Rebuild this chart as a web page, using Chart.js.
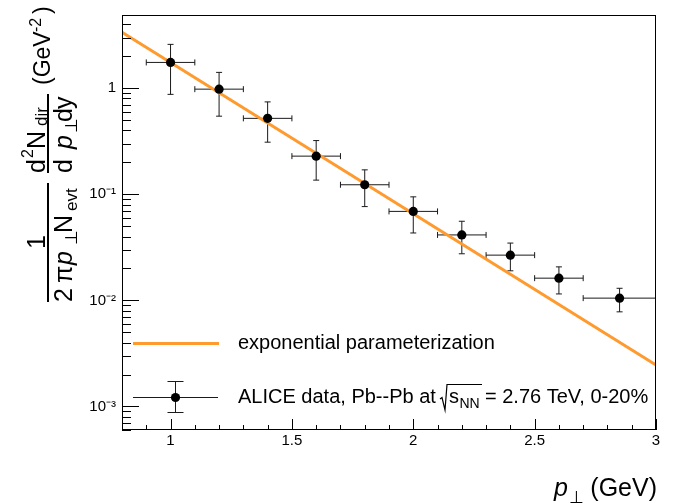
<!DOCTYPE html>
<html>
<head>
<meta charset="utf-8">
<script src="https://cdn.jsdelivr.net/npm/chart.js@4.4.1/dist/chart.umd.min.js"></script>
<style>
html,body{margin:0;padding:0;background:#fff;}
canvas{display:block;}
</style>
</head>
<body>
<canvas id="c" width="686" height="503"></canvas>
<script>
// ---- data ----
const ptCenters = [1.0, 1.2, 1.4, 1.6, 1.8, 2.0, 2.2, 2.4, 2.6, 2.85];
const ptLow     = [0.9, 1.1, 1.3, 1.5, 1.7, 1.9, 2.1, 2.3, 2.5, 2.7];
const ptHigh    = [1.1, 1.3, 1.5, 1.7, 1.9, 2.1, 2.3, 2.5, 2.7, 3.0];
const dirYield     = [1.75, 0.98, 0.52, 0.229, 0.123, 0.069, 0.0414, 0.0267, 0.0162, 0.0105];
const dirYieldHigh = [2.59, 1.41, 0.743, 0.321, 0.170, 0.0946, 0.0557, 0.0347, 0.0207, 0.0130];
const dirYieldLow  = [0.875, 0.545, 0.31, 0.136, 0.0766, 0.0432, 0.0275, 0.019, 0.0115, 0.0078];
const fitX = [0.8, 3.0];
const fitY = [3.37, 0.00246];
const xTicks = [1, 1.5, 2, 2.5, 3];
const xTickLabels = ['1', '1.5', '2', '2.5', '3'];
const yTicks = [0.001, 0.01, 0.1, 1];
const yTickLabels = ['10\u207B\u00B3', '10\u207B\u00B2', '10\u207B\u00B9', '1'];
const legendLabels = ['exponential parameterization', 'ALICE data, Pb--Pb at '];

const FONT = '"Liberation Sans", Arial, Helvetica, sans-serif';
const ORANGE = '#ff9a2e';

const fitData = fitX.map((x, i) => ({x: x, y: fitY[i]}));
const ptsData = ptCenters.map((x, i) => ({x: x, y: dirYield[i]}));

function vtext(ctx, str, size, bx, sy, opts) {
  opts = opts || {};
  ctx.save();
  ctx.translate(bx, sy);
  ctx.rotate(-Math.PI / 2);
  ctx.font = (opts.italic ? 'italic ' : '') + size + 'px ' + FONT;
  ctx.textAlign = opts.align || 'left';
  ctx.textBaseline = 'alphabetic';
  ctx.fillStyle = '#000';
  ctx.fillText(str, 0, 0);
  ctx.restore();
}
function htext(ctx, str, size, x, y, opts) {
  opts = opts || {};
  ctx.save();
  ctx.font = (opts.italic ? 'italic ' : '') + size + 'px ' + FONT;
  ctx.textAlign = opts.align || 'left';
  ctx.textBaseline = 'alphabetic';
  ctx.fillStyle = '#000';
  ctx.fillText(str, x, y);
  ctx.restore();
}
function line(ctx, x1, y1, x2, y2, color, w) {
  ctx.save();
  ctx.strokeStyle = color; ctx.lineWidth = w;
  ctx.beginPath(); ctx.moveTo(x1, y1); ctx.lineTo(x2, y2); ctx.stroke();
  ctx.restore();
}

const rootPlugin = {
  id: 'rootStyle',
  beforeDraw(chart) {
    const ctx = chart.ctx;
    ctx.save(); ctx.fillStyle = '#fff'; ctx.fillRect(0, 0, chart.width, chart.height); ctx.restore();
  },
  beforeDatasetsDraw(chart) {
    const ctx = chart.ctx;
    const xs = chart.scales.x, ys = chart.scales.y;
    ctx.save();
    ctx.beginPath();
    ctx.rect(chart.chartArea.left, chart.chartArea.top, chart.chartArea.right - chart.chartArea.left, chart.chartArea.bottom - chart.chartArea.top);
    ctx.clip();
    const c = '#1a1a1a';
    for (let i = 0; i < ptCenters.length; i++) {
      const px = xs.getPixelForValue(ptCenters[i]);
      const py = ys.getPixelForValue(dirYield[i]);
      const xl = xs.getPixelForValue(ptLow[i]);
      const xh = xs.getPixelForValue(ptHigh[i]);
      const yl = ys.getPixelForValue(dirYieldLow[i]);
      const yh = ys.getPixelForValue(dirYieldHigh[i]);
      line(ctx, xl, py, xh, py, c, 1);
      line(ctx, px, yl, px, yh, c, 1);
      line(ctx, xl, py - 3, xl, py + 3, c, 1);
      line(ctx, xh, py - 3, xh, py + 3, c, 1);
      line(ctx, px - 3, yl, px + 3, yl, c, 1);
      line(ctx, px - 3, yh, px + 3, yh, c, 1);
    }
    ctx.restore();
  },
  afterDraw(chart) {
    const ctx = chart.ctx;
    const a = chart.chartArea;
    const xs = chart.scales.x, ys = chart.scales.y;
    // frame
    ctx.save();
    ctx.strokeStyle = '#000'; ctx.lineWidth = 1;
    ctx.strokeRect(Math.round(a.left) + 0.5, Math.round(a.top) + 0.5, Math.round(a.right - a.left) - 1, Math.round(a.bottom - a.top) - 1);
    ctx.restore();
    // y ticks (inside)
    const L = Math.round(a.left);
    for (let e = -4; e <= 1; e++) {
      for (let k = 1; k <= 9; k++) {
        const v = k * Math.pow(10, e);
        if (v < ys.min || v > ys.max) continue;
        const py = Math.round(ys.getPixelForValue(v)) + 0.5;
        const len = (k === 1) ? 17 : 9;
        line(ctx, L, py, L + len, py, '#000', 1);
      }
    }
    // x ticks (inside)
    const B = Math.round(a.bottom);
    for (let i = 8; i <= 30; i++) {
      const v = i / 10;
      const px = Math.round(xs.getPixelForValue(v)) + 0.5;
      const major = (i % 5 === 0) && i >= 10;
      line(ctx, px, B, px, B - (major ? 11 : 5), '#000', 1);
    }
    // legend
    line(ctx, 133, 343.5, 219, 343.5, ORANGE, 3);
    htext(ctx, legendLabels[0], 20, 238, 349);
    line(ctx, 133, 397.5, 218, 397.5, '#1a1a1a', 1);
    line(ctx, 175.5, 381, 175.5, 413, '#1a1a1a', 1);
    line(ctx, 167.5, 381.5, 183.5, 381.5, '#1a1a1a', 1);
    line(ctx, 167.5, 412.5, 183.5, 412.5, '#1a1a1a', 1);
    ctx.save(); ctx.fillStyle = '#000'; ctx.beginPath(); ctx.arc(175.5, 397.5, 4.6, 0, Math.PI * 2); ctx.fill(); ctx.restore();
    htext(ctx, legendLabels[1], 20, 238, 403);
    // sqrt(s_NN)
    ctx.save();
    ctx.strokeStyle = '#000'; ctx.lineWidth = 1.2;
    ctx.beginPath();
    ctx.moveTo(440, 399); ctx.lineTo(442, 397.5); ctx.lineTo(445, 410); ctx.lineTo(447, 384.5); ctx.lineTo(482, 384.5);
    ctx.stroke();
    ctx.restore();
    htext(ctx, 's', 20, 449, 403);
    htext(ctx, 'NN', 14, 459.5, 408);
    htext(ctx, '= 2.76 TeV, 0-20%', 20, 485, 403);
    // x title
    htext(ctx, '(GeV)', 25, 657, 496, {align: 'right'});
    htext(ctx, 'p', 25, 554, 496, {italic: true});
    htext(ctx, '\u22A5', 17, 569, 503);
    // y title: first fraction 1/(2 pi p_perp N_evt)
    vtext(ctx, '1', 25, 45, 242, {align: 'center'});
    line(ctx, 48, 183, 48, 302, '#000', 2);
    vtext(ctx, '2', 25, 72, 302);
    vtext(ctx, '\u03C0', 25, 72, 283);
    vtext(ctx, 'p', 25, 72, 265, {italic: true});
    vtext(ctx, '\u22A5', 17, 77, 245);
    vtext(ctx, 'N', 25, 72, 233);
    vtext(ctx, 'evt', 17, 77, 211);
    // second fraction d2N_dir / (d p_perp dy)
    vtext(ctx, 'd', 25, 45, 173);
    vtext(ctx, '2', 16, 33, 158);
    vtext(ctx, 'N', 25, 45, 149);
    vtext(ctx, 'dir', 17, 47, 126);
    line(ctx, 48, 94, 48, 173, '#000', 2);
    vtext(ctx, 'd', 25, 72, 173);
    vtext(ctx, 'p', 25, 72, 149, {italic: true});
    vtext(ctx, '\u22A5', 17, 77, 133);
    vtext(ctx, 'd', 25, 72, 122);
    vtext(ctx, 'y', 25, 72, 109);
    // (GeV^-2)
    vtext(ctx, '(GeV', 23, 50, 85);
    vtext(ctx, '-2', 16, 41, 32);
    vtext(ctx, ')', 23, 50, 14);
  }
};

new Chart(document.getElementById('c'), {
  type: 'scatter',
  data: {
    datasets: [
      {
        type: 'line',
        label: legendLabels[0],
        data: fitData,
        borderColor: ORANGE,
        borderWidth: 3,
        pointRadius: 0,
        fill: false,
        tension: 0,
        order: 2
      },
      {
        label: 'ALICE',
        data: ptsData,
        pointRadius: 4.6,
        pointBackgroundColor: '#000',
        pointBorderColor: '#000',
        pointBorderWidth: 0,
        showLine: false,
        order: 1
      }
    ]
  },
  options: {
    responsive: false,
    animation: false,
    devicePixelRatio: 1,
    layout: {padding: {left: 0, right: 30, top: 7, bottom: 0}},
    plugins: {legend: {display: false}, tooltip: {enabled: false}},
    scales: {
      x: {
        type: 'linear',
        min: 0.8, max: 3,
        afterBuildTicks: (s) => { s.ticks = xTicks.map(v => ({value: v})); },
        afterFit: (s) => { s.height = 73; },
        ticks: {
          callback: (v) => { const i = xTicks.indexOf(v); return i >= 0 ? xTickLabels[i] : ''; },
          font: {family: FONT, size: 15}, color: '#000', padding: 2,
          maxRotation: 0, autoSkip: false
        },
        grid: {display: false, drawTicks: false},
        border: {display: false}
      },
      y: {
        type: 'logarithmic',
        min: 6.27e-4, max: 4.9,
        afterBuildTicks: (s) => { s.ticks = yTicks.map(v => ({value: v})); },
        afterFit: (s) => { s.width = 122; },
        ticks: {
          callback: (v) => { const i = yTicks.findIndex(t => Math.abs(t - v) < t * 1e-6); return i >= 0 ? yTickLabels[i] : ''; },
          font: {family: FONT, size: 15}, color: '#000', padding: 6,
          autoSkip: false
        },
        grid: {display: false, drawTicks: false},
        border: {display: false}
      }
    }
  },
  plugins: [rootPlugin]
});
</script>
</body>
</html>
